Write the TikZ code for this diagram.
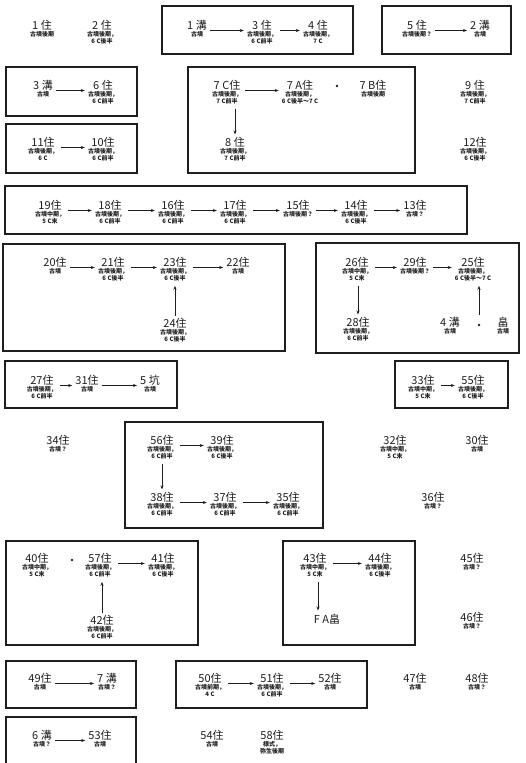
\documentclass[tikz,border=0pt]{standalone}
\usepackage{fontspec}
\setmainfont{Noto Sans CJK JP}
\usetikzlibrary{arrows.meta}
\definecolor{ink}{HTML}{1E1E1E}
\newcommand\Lb[2]{\fontsize{6}{7}\selectfont\bfseries\begin{tabular}{@{}c@{}}{\fontsize{11}{12}\selectfont\mdseries #1}\\[-1pt] #2\end{tabular}}
\tikzset{
  it/.style={anchor=north, inner sep=0pt, text=ink},
  ttl/.style={anchor=north, inner sep=0pt, text=ink, font=\fontsize{11}{12}\selectfont},
  box/.style={draw=ink, line width=1.2pt},
  arr/.style={draw=ink, -{Stealth[length=4pt,width=3pt]}, line width=0.6pt, shorten <=3pt, shorten >=3pt},
  dotn/.style={circle, fill=ink, inner sep=0pt, minimum size=2.6pt},
}
\newcommand\ha[2]{\draw[arr] ([yshift=-10pt]#1.north east) -- ([yshift=-10pt]#2.north west);}
\begin{document}
\begin{tikzpicture}[x=1pt,y=-1pt]
\useasboundingbox (0,0) rectangle (525,763);
% ---------- row 1
\node[it] (n1) at (42,20.5) {\Lb{1 住}{古墳後期}};
\node[it] (n2) at (102,20.5) {\Lb{2 住}{古墳後期，\\6 C後半}};
\draw[box] (162,6) rectangle (353,54);
\node[it] (m1) at (197,20.5) {\Lb{1 溝}{古墳}};
\node[it] (n3) at (262,20.5) {\Lb{3 住}{古墳後期，\\6 C前半}};
\node[it] (n4) at (318,20.5) {\Lb{4 住}{古墳後期，\\7 C}};
\ha{m1}{n3} \ha{n3}{n4}
\draw[box] (382,6) rectangle (511,54);
\node[it] (n5) at (417,20.5) {\Lb{5 住}{古墳後期？}};
\node[it] (m2) at (480,20.5) {\Lb{2 溝}{古墳}};
\ha{n5}{m2}
% ---------- row 2
\draw[box] (6,67) rectangle (137,116);
\node[it] (m3) at (43,80.5) {\Lb{3 溝}{古墳}};
\node[it] (n6) at (103,80.5) {\Lb{6 住}{古墳後期，\\6 C前半}};
\ha{m3}{n6}
\draw[box] (188,67) rectangle (415,173);
\node[it] (n7C) at (227,80.5) {\Lb{7 C住}{古墳後期，\\7 C前半}};
\node[it] (n7A) at (300,80.5) {\Lb{7 A住}{古墳後期，\\6 C後半～7 C}};
\node[dotn] (d7) at (337,86) {};
\node[it] (n7B) at (373,80.5) {\Lb{7 B住}{古墳後期}};
\ha{n7C}{n7A}
\node[it] (n8) at (235,137.5) {\Lb{8 住}{古墳後期，\\7 C前半}};
\draw[arr] (n8 |- n7C.south) -- (n8.north);
\node[it] (n9) at (475,80.5) {\Lb{9 住}{古墳後期，\\7 C前半}};
\draw[box] (6,124) rectangle (137,173);
\node[it] (n11) at (43,137.5) {\Lb{11住}{古墳後期，\\6 C}};
\node[it] (n10) at (103,137.5) {\Lb{10住}{古墳後期，\\6 C前半}};
\ha{n11}{n10}
\node[it] (n12) at (475,137.5) {\Lb{12住}{古墳後期，\\6 C後半}};
% ---------- row 3
\draw[box] (5,186) rectangle (467,234);
\node[it] (n19) at (50,200.5) {\Lb{19住}{古墳中期，\\5 C末}};
\node[it] (n18) at (110,200.5) {\Lb{18住}{古墳後期，\\6 C前半}};
\node[it] (n16) at (173,200.5) {\Lb{16住}{古墳後期，\\6 C前半}};
\node[it] (n17) at (235,200.5) {\Lb{17住}{古墳後期，\\6 C前半}};
\node[it] (n15) at (298,200.5) {\Lb{15住}{古墳後期？}};
\node[it] (n14) at (356,200.5) {\Lb{14住}{古墳後期，\\6 C後半}};
\node[it] (n13) at (415,200.5) {\Lb{13住}{古墳？}};
\ha{n19}{n18} \ha{n18}{n16} \ha{n16}{n17} \ha{n17}{n15} \ha{n15}{n14} \ha{n14}{n13}
% ---------- row 4
\draw[box] (3,244) rectangle (285,351);
\node[it] (n20) at (55,257.5) {\Lb{20住}{古墳}};
\node[it] (n21) at (113,257.5) {\Lb{21住}{古墳後期，\\6 C後半}};
\node[it] (n23) at (175,257.5) {\Lb{23住}{古墳後期，\\6 C後半}};
\node[it] (n22) at (238,257.5) {\Lb{22住}{古墳}};
\ha{n20}{n21} \ha{n21}{n23} \ha{n23}{n22}
\node[it] (n24) at (175,318.5) {\Lb{24住}{古墳後期，\\6 C後半}};
\draw[arr] (n24.north) -- (n24 |- n23.south);
\draw[box] (316,243) rectangle (519,353);
\node[it] (n26) at (357,257.5) {\Lb{26住}{古墳中期，\\5 C末}};
\node[it] (n29) at (415,257.5) {\Lb{29住}{古墳後期？}};
\node[it] (n25) at (473,257.5) {\Lb{25住}{古墳後期，\\6 C後半～7 C}};
\ha{n26}{n29} \ha{n29}{n25}
\node[it] (n28) at (358,317.5) {\Lb{28住}{古墳後期，\\6 C前半}};
\draw[arr] (n28 |- n26.south) -- (n28.north);
\node[it] (m4) at (450,317.5) {\Lb{4 溝}{古墳}};
\node[dotn] (dH) at (479,325) {};
\node[it] (hb) at (503,317.5) {\Lb{畠}{古墳}};
\draw[arr] ([yshift=6pt]dH.north) -- (dH |- n25.south);
% ---------- row 5
\draw[box] (5,361) rectangle (177,408);
\node[it] (n27) at (42,375.5) {\Lb{27住}{古墳後期，\\6 C前半}};
\node[it] (n31) at (87,375.5) {\Lb{31住}{古墳}};
\node[it] (k5) at (150,375.5) {\Lb{5 坑}{古墳}};
\ha{n27}{n31} \ha{n31}{k5}
\draw[box] (395,361) rectangle (508,408);
\node[it] (n33) at (423,375.5) {\Lb{33住}{古墳中期，\\5 C末}};
\node[it] (n55) at (473,375.5) {\Lb{55住}{古墳後期，\\6 C後半}};
\ha{n33}{n55}
% ---------- row 6
\node[it] (n34) at (58,435.5) {\Lb{34住}{古墳？}};
\draw[box] (125,422) rectangle (323,528);
\node[it] (n56) at (162,435.5) {\Lb{56住}{古墳後期，\\6 C前半}};
\node[it] (n39) at (222,435.5) {\Lb{39住}{古墳後期，\\6 C後半}};
\ha{n56}{n39}
\node[it] (n38) at (162,492.5) {\Lb{38住}{古墳後期，\\6 C前半}};
\node[it] (n37) at (225,492.5) {\Lb{37住}{古墳後期，\\6 C前半}};
\node[it] (n35) at (288,492.5) {\Lb{35住}{古墳後期，\\6 C前半}};
\draw[arr] (n38 |- n56.south) -- (n38.north);
\ha{n38}{n37} \ha{n37}{n35}
\node[it] (n32) at (395,435.5) {\Lb{32住}{古墳中期，\\5 C末}};
\node[it] (n30) at (477,435.5) {\Lb{30住}{古墳}};
\node[it] (n36) at (433,492.5) {\Lb{36住}{古墳？}};
% ---------- row 7
\draw[box] (6,541) rectangle (198,645);
\node[it] (n40) at (37,553.5) {\Lb{40住}{古墳中期，\\5 C末}};
\node[dotn] (dL) at (72,560) {};
\node[it] (n57) at (100,553.5) {\Lb{57住}{古墳後期，\\6 C前半}};
\node[it] (n41) at (163,553.5) {\Lb{41住}{古墳後期，\\6 C後半}};
\ha{n57}{n41}
\node[it] (n42) at (102,615.5) {\Lb{42住}{古墳後期，\\6 C前半}};
\draw[arr] (n42.north) -- (n42 |- n57.south);
\draw[box] (283,541) rectangle (415,645);
\node[it] (n43) at (315,553.5) {\Lb{43住}{古墳中期，\\5 C末}};
\node[it] (n44) at (380,553.5) {\Lb{44住}{古墳後期，\\6 C後半}};
\ha{n43}{n44}
\node[ttl] (fa) at (327,613.5) {F A畠};
\draw[arr] ([xshift=3pt]n43.south) -- ([xshift=3pt]n43.south |- fa.north);
\node[it] (n45) at (472,553.5) {\Lb{45住}{古墳？}};
\node[it] (n46) at (472,612.5) {\Lb{46住}{古墳？}};
% ---------- row 8
\draw[box] (6,661) rectangle (136,708);
\node[it] (n49) at (40,673.5) {\Lb{49住}{古墳}};
\node[it] (m7) at (107,673.5) {\Lb{7 溝}{古墳？}};
\ha{n49}{m7}
\draw[box] (176,661) rectangle (367,708);
\node[it] (n50) at (210,673.5) {\Lb{50住}{古墳前期，\\4 C}};
\node[it] (n51) at (272,673.5) {\Lb{51住}{古墳後期，\\6 C前半}};
\node[it] (n52) at (330,673.5) {\Lb{52住}{古墳}};
\ha{n50}{n51} \ha{n51}{n52}
\node[it] (n47) at (415,673.5) {\Lb{47住}{古墳}};
\node[it] (n48) at (477,673.5) {\Lb{48住}{古墳？}};
% ---------- row 9
\draw[box] (6,717) rectangle (136,768);
\node[it] (m6) at (42,730.5) {\Lb{6 溝}{古墳？}};
\node[it] (n53) at (100,730.5) {\Lb{53住}{古墳}};
\ha{m6}{n53}
\node[it] (n54) at (212,730.5) {\Lb{54住}{古墳}};
\node[it] (n58) at (272,730.5) {\Lb{58住}{様式，\\弥生後期}};
\end{tikzpicture}
\end{document}
